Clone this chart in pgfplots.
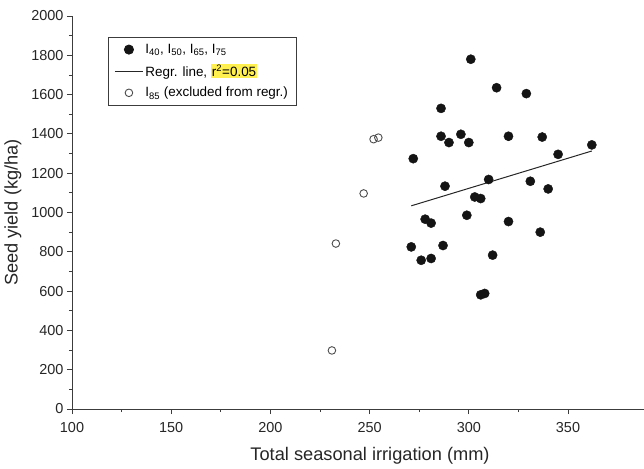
\documentclass[border=0pt]{standalone}
\usepackage{fontspec}
\setmainfont{Liberation Sans}
\usepackage{pgfplots}
\pgfplotsset{compat=1.18}
\usetikzlibrary{calc}
\definecolor{axisgray}{RGB}{60,60,60}
\definecolor{hl}{RGB}{255,240,80}

\begin{document}
\begin{tikzpicture}
\begin{axis}[name=ax, scale only axis, width=572bp, height=393bp,
  xmin=100, xmax=388.3, ymin=0, ymax=2000,
  axis lines*=left, axis line style={axisgray, line width=0.8bp},
  xtick={100,150,...,350}, ytick={0,200,...,2000},
  minor x tick num=1, minor y tick num=1,
  tick align=outside, major tick length=5bp, minor tick length=3bp,
  tick style={axisgray, line width=0.8bp},
  ticklabel style={font=\fontsize{14.5}{16}\selectfont, text=black!85},
  xticklabel style={yshift=-5bp},
  /pgf/number format/assume math mode=true,
  /pgf/number format/1000 sep={},
  xlabel={Total seasonal irrigation (mm)}, ylabel={Seed yield (kg/ha)},
  label style={font=\fontsize{18.3}{21}\selectfont, text=black!85},
  xlabel style={at={(rel axis cs:0.521,-0.1196)}, anchor=center},
  ylabel style={at={(rel axis cs:-0.1031,0.5)}, anchor=center},
  legend cell align=left,
  legend style={at={(rel axis cs:0.063,0.947)}, anchor=north west,
    draw=axisgray, line width=0.8bp, font=\fontsize{13.5}{15}\selectfont,
    row sep=5bp, inner xsep=6bp, inner ysep=5bp},
  legend image code/.code={\draw[mark repeat=2,mark phase=2,#1]
    plot coordinates {(0bp,0bp)(14bp,0bp)(28bp,0bp)};},
]
\addplot[only marks, mark=*, mark size=4.6bp, color=black!92] coordinates {
(301,1780)(314,1635)(286,1530)(286,1388)(290,1356)(296,1398)(300,1356)
(329,1605)(320,1388)(337,1384)(362,1344)(272,1274)(288,1134)(310,1168)
(303,1079)(306,1071)(278,966)(281,946)(299,986)(271,825)(287,832)
(276,757)(281,766)(312,783)(345,1296)(331,1159)(340,1120)(320,954)
(336,900)(306,581)(308,588)};
\addlegendentry{I\textsubscript{40}, I\textsubscript{50}, I\textsubscript{65}, I\textsubscript{75}}
\addplot[black!85, line width=1bp] coordinates {(271,1034)(362,1313)};
\addlegendentry{Regr. line, {\setlength{\fboxsep}{1bp}\colorbox{hl}{r\textsuperscript{2}=0.05}}}
\addplot[only marks, mark=o, mark size=3.8bp, mark options={fill=white, draw=black!70, line width=0.9bp}] coordinates {
(252,1373)(254.4,1381)(247,1097)(233,842)(231,298)};
\addlegendentry{I\textsubscript{85} (excluded from regr.)}
\end{axis}
\pgfresetboundingbox
\path[use as bounding box] ($(ax.south west)+(-72bp,-60bp)$) rectangle ($(ax.north east)+(0bp,16bp)$);
\end{tikzpicture}
\end{document}
